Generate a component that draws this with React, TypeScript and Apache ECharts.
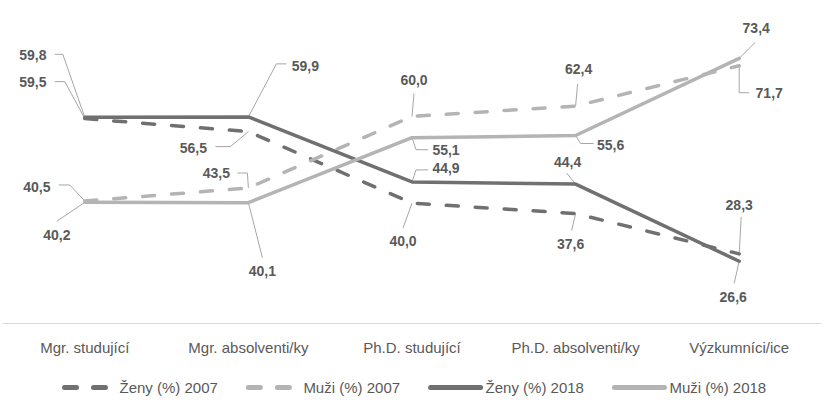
import React, { useEffect, useRef } from "react";
import * as echarts from "echarts";

const categories = ["Mgr. studující", "Mgr. absolventi/ky", "Ph.D. studující", "Ph.D. absolventi/ky", "Výzkumníci/ice"];
const seriesNames = ["Ženy (%) 2007", "Muži (%) 2007", "Ženy (%) 2018", "Muži (%) 2018"];
const zeny2007 = [59.5, 56.5, 40.0, 37.6, 28.3];
const muzi2007 = [40.5, 43.5, 60.0, 62.4, 71.7];
const zeny2018 = [59.8, 59.9, 44.9, 44.4, 26.6];
const muzi2018 = [40.2, 40.1, 55.1, 55.6, 73.4];

// label placement (offset of label centre and leader line relative to the data point)
type LabelPos = { dx: number; dy: number; line: number[][] };
const zeny2007Labels: LabelPos[] = [
  { dx: -52, dy: -37, line: [[0, 0], [-20, -37], [-30, -37]] },
  { dx: -55, dy: 16, line: [[0, 0], [-18, 15], [-33, 15]] },
  { dx: -9, dy: 38, line: [[0, 0], [-9, 25]] },
  { dx: -5, dy: 30, line: [[0, 0], [-4, 17]] },
  { dx: 0, dy: -49, line: [[0, 0], [2, -37]] },
];
const muzi2007Labels: LabelPos[] = [
  { dx: -48, dy: -14, line: [[0, 0], [-15, -16], [-26, -16]] },
  { dx: -32, dy: -15, line: [[0, 0], [-1, -15], [-11, -15]] },
  { dx: 2, dy: -36, line: [[0, 0], [2, -23]] },
  { dx: 3, dy: -37, line: [[0, 0], [2, -22]] },
  { dx: 30, dy: 27, line: [[0, 0], [0, 27], [10, 27]] },
];
const zeny2018Labels: LabelPos[] = [
  { dx: -52, dy: -62, line: [[0, 0], [-22, -63], [-30, -63]] },
  { dx: 57, dy: -51, line: [[0, 0], [28, -53], [38, -53]] },
  { dx: 34, dy: -14, line: [[0, 0], [4, -12], [16, -12]] },
  { dx: -8, dy: -22, line: [[0, 0], [-9, -11]] },
  { dx: -6, dy: 36, line: [[0, 0], [-5, 22]] },
];
const muzi2018Labels: LabelPos[] = [
  { dx: -28, dy: 33, line: [[0, 0], [-28, 19]] },
  { dx: 14, dy: 68, line: [[0, 0], [14, 55]] },
  { dx: 34, dy: 12, line: [[0, 0], [4, 12], [16, 12]] },
  { dx: 35, dy: 9, line: [[0, 0], [5, 8], [18, 8]] },
  { dx: 17, dy: -30, line: [[0, 0], [16, -16]] },
];

const DARK = "#707070";
const LIGHT = "#b4b4b4";
const TEXT = "#595959";
const FONT = "'Liberation Sans', Arial, sans-serif";

const fmt = (v: number) => v.toFixed(1).replace(".", ",");

function labelSeries(name: string, values: number[], pos: LabelPos[]) {
  return {
    type: "custom",
    name,
    coordinateSystem: "cartesian2d",
    silent: true,
    z: 1,
    data: values.map((v, i) => [i, v, i]),
    encode: { x: 0, y: 1 },
    renderItem: (params: any, api: any) => {
      const idx = api.value(2);
      const v = api.value(1);
      const p = api.coord([api.value(0), v]);
      const o = pos[idx];
      return {
        type: "group",
        children: [
          {
            type: "polyline",
            shape: { points: o.line.map(([dx, dy]) => [p[0] + dx, p[1] + dy]) },
            style: { stroke: "#a6a6a6", lineWidth: 1, fill: null },
          },
          {
            type: "text",
            style: {
              text: fmt(v),
              x: p[0] + o.dx,
              y: p[1] + o.dy,
              align: "center",
              verticalAlign: "middle",
              font: `bold 14px ${FONT}`,
              fill: TEXT,
            },
          },
        ],
      };
    },
  };
}

function lineSeries(name: string, values: number[], color: string, dashed: boolean) {
  return {
    type: "line",
    name,
    data: values,
    symbol: "none",
    showSymbol: false,
    z: 3,
    itemStyle: { color },
    lineStyle: {
      color,
      width: 3.5,
      type: dashed ? [12, 17] : "solid",
      cap: "round",
      join: "round",
    },
  };
}

export default function App() {
  const ref = useRef<HTMLDivElement>(null);
  useEffect(() => {
    document.body.style.margin = "0";
    const chart = echarts.init(ref.current!, null, { renderer: "svg" });
    chart.setOption({
      animation: false,
      backgroundColor: "#ffffff",
      grid: { left: 3, right: 10, top: 20, bottom: 93, containLabel: false },
      xAxis: {
        type: "category",
        data: categories,
        boundaryGap: true,
        axisLine: { show: true, onZero: false, lineStyle: { color: "#d9d9d9", width: 1 } },
        axisTick: { show: false },
        splitLine: { show: false },
        axisLabel: { color: TEXT, fontSize: 15, fontFamily: FONT, margin: 17, interval: 0 },
      },
      yAxis: {
        type: "value",
        min: 12.35,
        max: 82.25,
        show: false,
        splitLine: { show: false },
      },
      legend: {
        data: seriesNames,
        left: 57,
        top: 375,
        itemWidth: 50,
        itemHeight: 14,
        itemGap: 28,
        textStyle: { color: TEXT, fontSize: 15, fontFamily: FONT },
        itemStyle: { opacity: 0 },
        lineStyle: { width: 5 },
      },
      series: [
        labelSeries("l1", zeny2007, zeny2007Labels),
        labelSeries("l2", muzi2007, muzi2007Labels),
        labelSeries("l3", zeny2018, zeny2018Labels),
        labelSeries("l4", muzi2018, muzi2018Labels),
        lineSeries(seriesNames[0], zeny2007, DARK, true),
        lineSeries(seriesNames[1], muzi2007, LIGHT, true),
        lineSeries(seriesNames[2], zeny2018, DARK, false),
        lineSeries(seriesNames[3], muzi2018, LIGHT, false),
      ],
    });
    return () => chart.dispose();
  }, []);
  return (
    <div
      ref={ref}
      style={{ position: "fixed", left: 0, top: 0, width: 831, height: 416, background: "#fff" }}
    />
  );
}
